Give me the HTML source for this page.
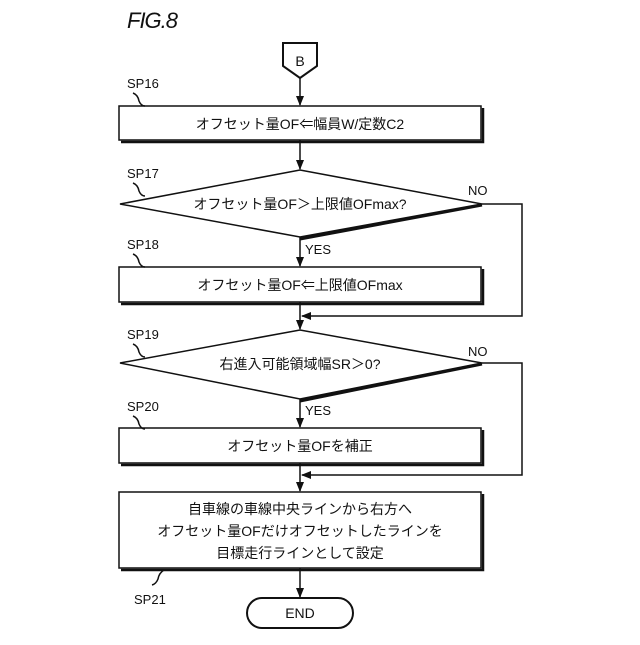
<!DOCTYPE html>
<html><head><meta charset="utf-8"><style>
body{margin:0;background:#fff}
svg text{font-family:"Liberation Sans","Noto Sans CJK JP",sans-serif;fill:#111}
</style></head><body>
<svg width="640" height="640" viewBox="0 0 640 640" xmlns="http://www.w3.org/2000/svg">
<defs><marker id="a" markerWidth="10" markerHeight="10" refX="9" refY="5" orient="auto" markerUnits="userSpaceOnUse"><path d="M0,1 L10,5 L0,9 Z" fill="#111"/></marker></defs>
<text x="127" y="28" font-size="22" font-style="italic" style="letter-spacing:-1px">FIG.8</text>
<g stroke="#111" fill="none" stroke-width="1.5">
<path d="M283,43 H317 V66 L300,78 L283,66 Z" fill="#fff" stroke-width="2"/>
<line x1="300" y1="78" x2="300" y2="105" marker-end="url(#a)"/>
<rect x="119" y="106" width="362" height="34" fill="#fff"/>
<path d="M121,142 H483 V108" stroke-width="2.5"/>
<line x1="300" y1="140" x2="300" y2="169" marker-end="url(#a)"/>
<path d="M120,204 L300,170 L482,204 L300,237 Z" fill="#fff"/>
<path d="M300,239 L482,205" stroke-width="3"/>
<line x1="300" y1="237" x2="300" y2="266" marker-end="url(#a)"/>
<rect x="119" y="267" width="362" height="35" fill="#fff"/>
<path d="M121,304 H483 V269" stroke-width="2.5"/>
<path d="M482,204 H522 V316 H302" marker-end="url(#a)"/>
<line x1="300" y1="302" x2="300" y2="329" marker-end="url(#a)"/>
<path d="M120,363 L300,330 L482,363 L300,399 Z" fill="#fff"/>
<path d="M300,401 L482,364" stroke-width="3"/>
<line x1="300" y1="399" x2="300" y2="427" marker-end="url(#a)"/>
<rect x="119" y="428" width="362" height="35" fill="#fff"/>
<path d="M121,465 H483 V430" stroke-width="2.5"/>
<path d="M482,363 H522 V475 H302" marker-end="url(#a)"/>
<line x1="300" y1="463" x2="300" y2="491" marker-end="url(#a)"/>
<rect x="119" y="492" width="362" height="76" fill="#fff"/>
<path d="M121,570 H483 V494" stroke-width="2.5"/>
<line x1="300" y1="568" x2="300" y2="597" marker-end="url(#a)"/>
<rect x="247" y="598" width="106" height="30" rx="15" fill="#fff" stroke-width="2"/>
<path d="M133,93 q5,2 6,8 q2,5 6,5"/>
<path d="M133,183 q5,2 6,8 q2,5 6,5"/>
<path d="M133,254 q5,2 6,8 q2,5 6,5"/>
<path d="M133,344 q5,2 6,8 q2,5 6,5"/>
<path d="M133,416 q5,2 6,8 q2,5 6,5"/>
<path d="M164,570 q-5,3 -6,9 q-2,5 -6,6"/>
</g>
<g font-size="14" text-anchor="middle">
<text x="300" y="66" font-size="14">B</text>
<text x="300" y="129">オフセット量OF⇐幅員W/定数C2</text>
<text x="300" y="209">オフセット量OF＞上限値OFmax?</text>
<text x="300" y="290">オフセット量OF⇐上限値OFmax</text>
<text x="300" y="369">右進入可能領域幅SR＞0?</text>
<text x="300" y="451">オフセット量OFを補正</text>
<text x="300" y="514">自車線の車線中央ラインから右方へ</text>
<text x="300" y="536">オフセット量OFだけオフセットしたラインを</text>
<text x="300" y="558">目標走行ラインとして設定</text>
<text x="300" y="618">END</text>
</g>
<g font-size="13">
<text x="127" y="88">SP16</text>
<text x="127" y="178">SP17</text>
<text x="127" y="249">SP18</text>
<text x="127" y="339">SP19</text>
<text x="127" y="411">SP20</text>
<text x="134" y="604">SP21</text>
<text x="468" y="195">NO</text>
<text x="468" y="356">NO</text>
<text x="305" y="254">YES</text>
<text x="305" y="415">YES</text>
</g>
</svg>
</body></html>
